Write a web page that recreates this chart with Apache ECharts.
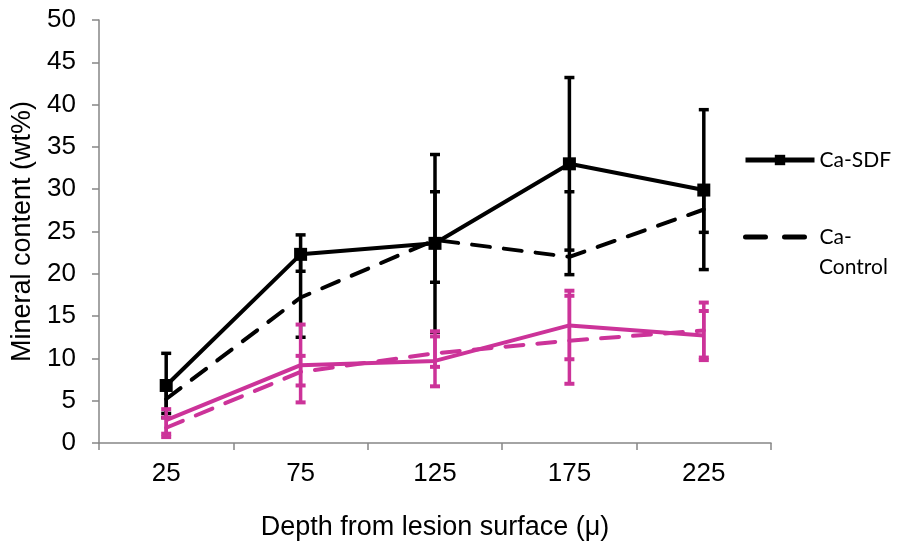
<!DOCTYPE html>
<html>
<head>
<meta charset="utf-8">
<script src="https://cdn.jsdelivr.net/npm/echarts@6/dist/echarts.min.js"></script>
<style>
html,body{margin:0;padding:0;background:#fff;}
#chart{width:903px;height:548px;}
</style>
</head>
<body>
<div id="chart"></div>
<script>
// ---- data ----
const categories = ['25', '75', '125', '175', '225'];
const yTicks = [0, 5, 10, 15, 20, 25, 30, 35, 40, 45, 50];

const caSdf = [6.8, 22.3, 23.6, 33.0, 29.9];
const caSdfLow = [3.0, 20.3, 13.1, 22.8, 20.5];
const caSdfHigh = [10.6, 24.6, 34.1, 43.2, 39.4];

const caControl = [5.2, 17.2, 24.0, 22.0, 27.6];
const caControlLow = [3.5, 12.5, 19.0, 19.9, 24.9];
const caControlHigh = [6.9, 21.9, 29.7, 29.7, 30.3];

const pSdf = [2.7, 9.2, 9.7, 13.9, 12.7];
const pSdfLow = [1.1, 4.8, 6.7, 9.9, 9.8];
const pSdfHigh = [4.0, 14.0, 12.6, 18.0, 15.6];

const pControl = [1.8, 8.4, 10.6, 12.1, 13.3];
const pControlLow = [0.7, 6.8, 9.0, 7.0, 10.1];
const pControlHigh = [3.0, 10.3, 13.2, 17.4, 16.6];

// ---- styles ----
const BLACK = '#000000';
const MAGENTA = '#CC3399';
const AXIS = '#868686';
const AX_FONT = 'Liberation Sans, Arial, sans-serif';
const LG_FONT = 'Lato, Open Sans, sans-serif';

function errData(low, high) {
  return low.map((l, i) => [i, l, high[i]]);
}
function errSeries(name, low, high, color, lw, capW, capH, z) {
  return {
    type: 'custom',
    name: name,
    z: z,
    silent: true,
    encode: { x: 0, y: [1, 2] },
    data: errData(low, high),
    renderItem: function (params, api) {
      const lo = api.coord([api.value(0), api.value(1)]);
      const hi = api.coord([api.value(0), api.value(2)]);
      const x = lo[0];
      return {
        type: 'group',
        children: [
          { type: 'line', shape: { x1: x, y1: lo[1], x2: x, y2: hi[1] }, style: { stroke: color, lineWidth: lw } },
          { type: 'rect', shape: { x: x - capW / 2, y: lo[1] - capH / 2, width: capW, height: capH }, style: { fill: color } },
          { type: 'rect', shape: { x: x - capW / 2, y: hi[1] - capH / 2, width: capW, height: capH }, style: { fill: color } }
        ]
      };
    }
  };
}

const chart = echarts.init(document.getElementById('chart'), null, { renderer: 'canvas' });
const option = {
  animation: false,
  backgroundColor: '#ffffff',
  grid: { left: 99, right: 132, top: 20, bottom: 105 },
  xAxis: {
    type: 'category',
    data: categories,
    boundaryGap: true,
    name: 'Depth from lesion surface (μ)',
    nameLocation: 'middle',
    nameGap: 71,
    nameTextStyle: { fontFamily: AX_FONT, fontSize: 27, color: '#000' },
    axisLine: { lineStyle: { color: AXIS, width: 1.5 } },
    axisTick: { show: true, length: 7, lineStyle: { color: AXIS, width: 1.5 } },
    axisLabel: { fontFamily: AX_FONT, fontSize: 26, color: '#000', margin: 18 },
    splitLine: { show: false }
  },
  yAxis: {
    type: 'value',
    min: yTicks[0],
    max: yTicks[yTicks.length - 1],
    interval: 5,
    name: 'Mineral content (wt%)',
    nameLocation: 'middle',
    nameGap: 63,
    nameRotate: 90,
    nameTextStyle: { fontFamily: AX_FONT, fontSize: 27, color: '#000' },
    axisLine: { show: true, lineStyle: { color: AXIS, width: 1.5 } },
    axisTick: { show: true, length: 7, lineStyle: { color: AXIS, width: 1.5 } },
    axisLabel: { fontFamily: AX_FONT, fontSize: 26, color: '#000', margin: 23 },
    splitLine: { show: false }
  },
  legend: [
    {
      data: ['Ca-SDF'],
      left: 743, top: 148, padding: 0,
      itemWidth: 69, itemHeight: 13, itemGap: 5,
      lineStyle: { width: 5 },
      textStyle: { fontFamily: LG_FONT, fontSize: 21, color: '#000', lineHeight: 24 }
    },
    {
      data: [{ name: 'Ca-Control', itemStyle: { opacity: 0 } }],
      formatter: function () { return 'Ca-'; },
      left: 743, top: 225, padding: 0,
      itemWidth: 69, itemHeight: 13, itemGap: 5,
      lineStyle: { width: 5, type: [20, 19], cap: 'round' },
      textStyle: { fontFamily: LG_FONT, fontSize: 21, color: '#000', lineHeight: 24 }
    }
  ],
  graphic: [
    { type: 'text', left: 819, top: 257, style: { text: 'Control', fontFamily: LG_FONT, fontSize: 21, fill: '#000' } }
  ],
  series: [
    errSeries('Ca-SDF err', caSdfLow, caSdfHigh, BLACK, 3.5, 10, 3.5, 2),
    {
      name: 'Ca-SDF', type: 'line', data: caSdf, z: 3,
      symbol: 'rect', symbolSize: 13,
      itemStyle: { color: BLACK },
      lineStyle: { color: BLACK, width: 4 }
    },
    errSeries('Ca-Control err', caControlLow, caControlHigh, BLACK, 3.5, 10, 3.5, 2),
    {
      name: 'Ca-Control', type: 'line', data: caControl, z: 3,
      symbol: 'none',
      itemStyle: { color: BLACK },
      lineStyle: { color: BLACK, width: 4, type: [18, 14], cap: 'round' }
    },
    errSeries('P-SDF err', pSdfLow, pSdfHigh, MAGENTA, 3.5, 10, 4, 4),
    {
      name: 'P-SDF', type: 'line', data: pSdf, z: 5,
      symbol: 'none',
      itemStyle: { color: MAGENTA },
      lineStyle: { color: MAGENTA, width: 4 }
    },
    errSeries('P-Control err', pControlLow, pControlHigh, MAGENTA, 3.5, 10, 4, 4),
    {
      name: 'P-Control', type: 'line', data: pControl, z: 5,
      symbol: 'none',
      itemStyle: { color: MAGENTA },
      lineStyle: { color: MAGENTA, width: 4, type: [18, 14], cap: 'round' }
    }
  ]
};
chart.setOption(option);
</script>
</body>
</html>
